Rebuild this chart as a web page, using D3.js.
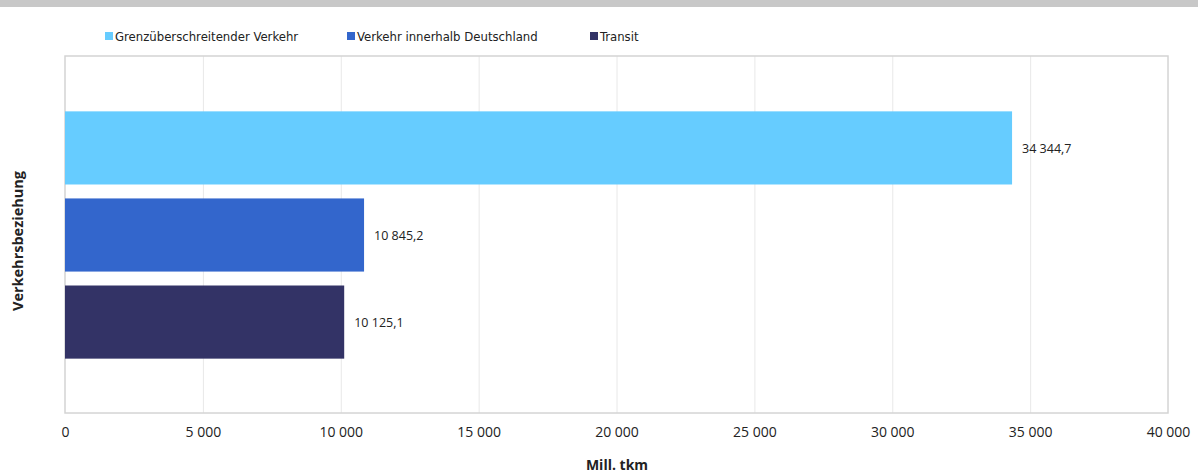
<!DOCTYPE html>
<meta charset="utf-8">
<script src="https://d3js.org/d3.v7.min.js"></script>
<style>
  body { margin: 0; background: #fff; font-family: 'Open Sans', sans-serif; }
</style>
<body>
<svg width="1198" height="473"></svg>
</body>
<script>

// data
var series = ["Grenzüberschreitender Verkehr", "Verkehr innerhalb Deutschland", "Transit"];
var values = [34344.7, 10845.2, 10125.1];
var labels = ["34 344,7", "10 845,2", "10 125,1"];
var colors = ["#66ccff", "#3366cc", "#333366"];
var xTicks = [0, 5000, 10000, 15000, 20000, 25000, 30000, 35000, 40000];

var svg = d3.select("svg"),
    margin = {top: 56, right: 30, bottom: 60, left: 65},
    width = 1168 - margin.left,
    height = 413 - margin.top;

// grey strip at the top (cut off title bar)
svg.append("rect")
    .attr("x", 0).attr("y", 0)
    .attr("width", 1198).attr("height", 7)
    .attr("fill", "#c8c8c8");

var g = svg.append("g").attr("transform", "translate(" + margin.left + "," + margin.top + ")");

var x = d3.scaleLinear().domain([0, 40000]).range([0, width]);
var y = d3.scaleBand().domain(series).range([0, height])
    .paddingInner(0.16).paddingOuter(0.63);
var z = d3.scaleOrdinal().domain(series).range(colors);

// gridlines
g.append("g")
  .selectAll("line")
  .data(xTicks.slice(1, -1))
  .enter().append("line")
    .attr("x1", function(d) { return x(d) + 0.5; })
    .attr("x2", function(d) { return x(d) + 0.5; })
    .attr("y1", 0).attr("y2", height)
    .attr("stroke", "#e8e8e8").attr("stroke-width", 1);

// plot frame
g.append("rect")
    .attr("x", 0).attr("y", 0)
    .attr("width", width).attr("height", height)
    .attr("fill", "none")
    .attr("stroke", "#d4d4d4").attr("stroke-width", 1.5);

// bars
g.append("g")
  .selectAll("rect")
  .data(series)
  .enter().append("rect")
    .attr("x", 0)
    .attr("y", function(d) { return y(d) + 0.5; })
    .attr("width", function(d, i) { return x(values[i]); })
    .attr("height", y.bandwidth())
    .attr("fill", z);

// value labels
g.append("g")
  .selectAll("text")
  .data(series)
  .enter().append("text")
    .attr("x", function(d, i) { return x(values[i]) + 10; })
    .attr("y", function(d) { return y(d) + y.bandwidth() / 2 + 1; })
    .attr("dy", "0.35em")
    .attr("font-size", 12.5)
    .attr("fill", "#222")
    .text(function(d, i) { return labels[i]; });

// x axis
var xAxis = g.append("g")
    .attr("transform", "translate(0," + height + ")")
    .call(d3.axisBottom(x).tickValues(xTicks).tickSize(0).tickPadding(14)
      .tickFormat(function(d) { return d3.format(",")(d).replace(/,/g, " "); }));
xAxis.select(".domain").remove();
xAxis.selectAll("text")
    .attr("font-family", "'Open Sans', sans-serif")
    .attr("font-size", 14)
    .attr("fill", "#222");

// axis titles
svg.append("text")
    .attr("x", 617).attr("y", 470)
    .attr("text-anchor", "middle")
    .attr("font-size", 14)
    .attr("font-weight", "bold")
    .attr("fill", "#222")
    .text("Mill. tkm");

svg.append("text")
    .attr("transform", "translate(23,241) rotate(-90)")
    .attr("text-anchor", "middle")
    .attr("font-size", 14.5)
    .attr("font-weight", "bold")
    .attr("fill", "#222")
    .text("Verkehrsbeziehung");

// legend
var legendX = [105, 347, 590];
var legend = svg.append("g")
  .selectAll("g")
  .data(series)
  .enter().append("g")
    .attr("transform", function(d, i) { return "translate(" + legendX[i] + ",36)"; });

legend.append("rect")
    .attr("x", 0).attr("y", -4)
    .attr("width", 8).attr("height", 8)
    .attr("fill", z);

legend.append("text")
    .attr("x", 10)
    .attr("dy", "0.35em")
    .attr("font-family", "'DejaVu Sans Condensed', 'Roboto', sans-serif")
    .attr("font-size", 13)
    .attr("fill", "#222")
    .text(function(d) { return d; });

</script>
